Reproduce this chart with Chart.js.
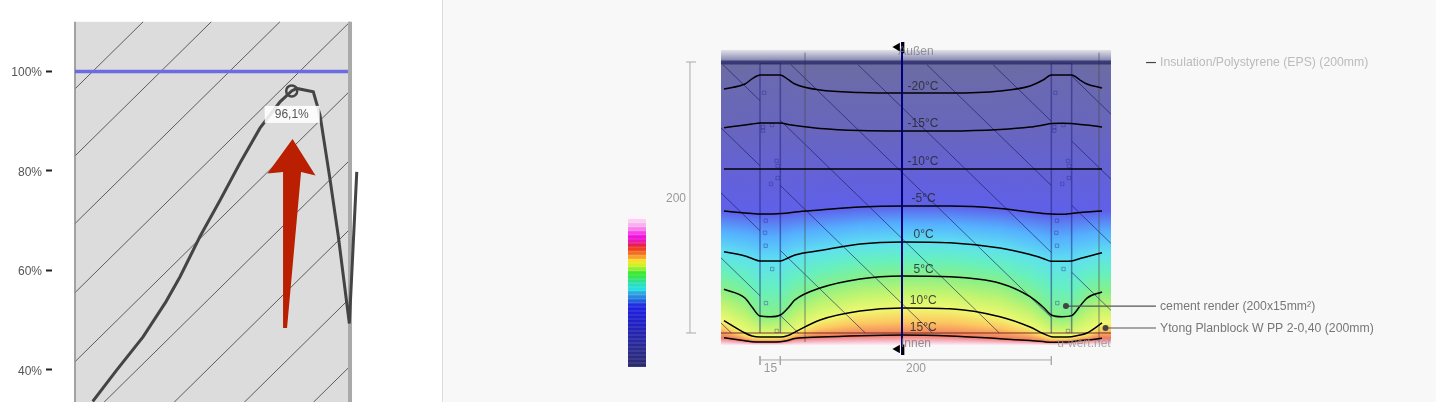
<!DOCTYPE html>
<html>
<head>
<meta charset="utf-8">
<script src="https://cdn.jsdelivr.net/npm/chart.js@4/dist/chart.umd.min.js"></script>
<style>
  html, body { margin: 0; padding: 0; width: 1436px; height: 402px; overflow: hidden; background: #fff; }
  canvas { position: absolute; display: block; }
  #right-bg { position: absolute; left: 442px; top: 0; width: 994px; height: 402px; background: #f8f8f8; border-left: 1px solid #dcdcdc; box-sizing: border-box; }
</style>
</head>
<body>
<div id="right-bg"></div>
<canvas id="humidity" width="443" height="402" style="left:0;top:0"></canvas>
<canvas id="section" width="993" height="402" style="left:443px;top:0"></canvas>
<canvas id="scale" width="18" height="152" style="left:628px;top:215px"></canvas>
<script>
// left panel: humidity across the wall (x in mm, y in %)
const humTicks = [40, 60, 80, 100];
const humX = [12.9, 30.3, 49.5, 66.2, 76.4, 90.9, 105.5, 120, 134.5, 149.1, 157.6, 161.2, 173.3, 178.2, 185.5, 191.5, 199.5, 204.9];
const humY = [33.6, 39.9, 46.6, 53.7, 58.7, 66.8, 74.1, 81.6, 88.6, 93.9, 96.1, 96.6, 95.9, 91.2, 78.2, 66.8, 49.3, 79.8];
const humPeakIndex = 10;
const humPeakLabel = '96,1%';
const humHatch = [151, 137.5, 123.9, 110, 96.1, 82.2, 68.3, 54.4, 40.7, 26.9];
const arrowX = [158.2, 174.9, 164.4, 154.2, 151.6, 151.3, 140];
const arrowY = [86.4, 79.1, 79.8, 48.4, 48.4, 79.8, 79.5];

// right panel: wall section (mm), one isotherm height per station
const wallX = [-26.6, -11.1, -5.9, 0, 7.5, 15, 20.7, 25.8, 44.3, 73.8, 104.8, 140.2, 177.1, 199.3, 208.9, 215, 222.9, 230, 236.2, 241.3, 252.4];
const isoM20 = [180.1, 183.8, 187.5, 190.4, 190.4, 190.4, 187.1, 183.8, 179.3, 177.5, 177.1, 177.1, 178.6, 182.3, 186.7, 190.4, 190.4, 190.4, 186.7, 183.8, 180.8];
const isoM15 = [151.5, 153.5, 154.2, 155, 155, 155, 153.9, 153.1, 150.9, 149.4, 149.1, 149.1, 150.2, 152, 153.5, 154.6, 154.8, 154.6, 153.9, 153.5, 152];
const isoM10 = [121, 121, 121, 121, 121, 121, 121, 121, 121, 121, 121, 121, 121, 121, 121, 121, 121, 121, 121, 121, 121];
const isoM5 = [90, 88.6, 88.2, 87.8, 87.8, 88.2, 88.6, 89.3, 90.8, 93, 93.7, 93.7, 91.9, 89.3, 88.2, 87.8, 87.6, 88.2, 88.9, 89.3, 90];
const iso0 = [60, 56.8, 55, 53.1, 53.1, 53.1, 55.4, 57.6, 60.9, 65.7, 67.2, 66.6, 62.7, 57.9, 55, 52.9, 52.9, 53.1, 55, 56.3, 59.3];
const iso5 = [32.3, 25.8, 19.2, 12.5, 12, 13.3, 18.5, 24.4, 33.2, 39.9, 42.1, 41.5, 36.7, 26.8, 19.2, 13.3, 12, 12.8, 19.9, 25.8, 30.3];
const iso10 = [9.1, 0, -2.2, -3, -3, -3, -1.8, 0.7, 9.6, 16.2, 18.5, 17.9, 12, 4.4, -0.4, -2.7, -3, -2.7, -1.5, 0, 7.4];
const iso15 = [-3.5, -5.7, -6.4, -6.6, -6.6, -6.4, -5.5, -4.1, -3, -2, -1.5, -2.2, -4.2, -5.5, -6.3, -6.9, -6.6, -6.4, -5.5, -5.2, -3.9];
const isoTemps = [-20, -15, -10, -5, 0, 5, 10, 15];
const isoLines = [isoM20, isoM15, isoM10, isoM5, iso0, iso5, iso10, iso15];
const isoLabels = ['-20°C', '-15°C', '-10°C', '-5°C', '0°C', '5°C', '10°C', '15°C'];
const isoLabelX = [120.3, 120.3, 120.3, 120.7, 120.8, 120.8, 120.5, 120.5];
const isoLabelY = [181.8, 154.2, 126.4, 99.4, 72.8, 47, 23.8, 4.2];

// colour of the wall at a given temperature
const fieldTemps = [-25, -20, -15, -10, -5, -2.5, 0, 2.5, 5, 7.5, 10, 12.5, 15, 17.5, 20];
const fieldColors = ['#6c6ca2', '#6a69b0', '#6866bc', '#6462d4', '#5f60ea', '#55b0ff', '#5fe0f0', '#66f0c0', '#88f088', '#c0f470', '#f0f870', '#fcc860', '#f07860', '#f4b0c0', '#fdeef6'];

const hatchStarts = [-225.1, -175.6, -126.2, -76.8, -27.3, 22.9, 72.3, 123.2, 172, 221.4];
const studDotX = [3, 2.2, 2.2, 8.9, 12.3, 13, 13, 8.1, 4.2, 3.7, 4.2, 9, 4.4, 12.3];
const studDotY = [177.3, 149.3, 152, 153.5, 127, 123.2, 114.4, 110, 82.9, 74, 64.4, 47.2, 22.1, 1.5];
const materialNames = ['Insulation/Polystyrene (EPS) (200mm)', 'cement render (200x15mm²)', 'Ytong Planblock W PP 2-0,40 (200mm)'];

// colour scale rows, top to bottom
const scaleRows = ['#fdf3fb', '#f9d0f0', '#f8b0f0', '#f880ec', '#f840e6', '#f010e0', '#e818b0', '#e82050', '#f04020', '#f07020', '#f8a030', '#f8e020', '#d0f028', '#90f030', '#40e830', '#30e850', '#30e090', '#28e0c0', '#20e0e0', '#30a8e0', '#2888e0', '#2060e0', '#2030e0', '#2020e0', '#2020d8', '#2020d0', '#2020c8', '#2020c0', '#2222b8', '#2424b0', '#2626a8', '#2828a0', '#282898', '#2a2a90', '#2a2a88', '#2a2a80', '#2a2a78', '#2a2a70'];

const FONT = '12px "Liberation Sans", Arial, sans-serif';
const MATERIAL_FONT = '12.25px "Liberation Sans", Arial, sans-serif';

function xy(xs, ys) { return xs.map((x, i) => ({ x, y: ys[i] })); }

// list of [x1,y1,x2,y2] -> points with gaps between the pieces
function pieces(list) {
  const out = [];
  list.forEach(s => { out.push({ x: s[0], y: s[1] }, { x: s[2], y: s[3] }, { x: s[2], y: null }); });
  return out;
}

function line(data, color, width, extra) {
  return Object.assign({ data, borderColor: color, borderWidth: width, showLine: true, pointRadius: 0, tension: 0, spanGaps: false }, extra || {});
}

function text(ctx, str, x, y, color, align) {
  ctx.fillStyle = color;
  ctx.textAlign = align || 'center';
  ctx.fillText(str, x, y);
}

// --- left panel ---
function humHatchPieces() {
  const fall = 54.5; // % lost over the 200mm wall
  return humHatch.map(h => {
    let x2 = 200, y2 = h;
    if (y2 > 110) { x2 = 200 - (y2 - 110) / fall * 200; y2 = 110; }
    return [0, h - fall, x2, y2];
  });
}

const humDatasets = [
  line(pieces(humHatchPieces()), 'rgba(50,50,50,.75)', 1),
  line(xy([0, 0], [33, 110]), '#8a8a8a', 1.5),
  line(xy([200, 200], [33, 110]), '#a9a9a9', 4),
  line(xy([0, 198.5], [100, 100]), '#6c6ce2', 3.5),
  line(xy(humX, humY), '#444', 3, {
    pointRadius: humX.map((x, i) => i === humPeakIndex ? 5.5 : 0),
    pointBackgroundColor: 'transparent', pointBorderColor: '#444', pointBorderWidth: 2.5
  }),
  line(xy(arrowX, arrowY), '#b91f00', 0, { fill: 'shape', backgroundColor: '#b91f00' })
].reverse();

new Chart(document.getElementById('humidity'), {
  type: 'scatter',
  data: { datasets: humDatasets },
  options: {
    responsive: false, animation: false, events: [],
    layout: { padding: 0, autoPadding: false },
    plugins: { legend: { display: false }, tooltip: { enabled: false } },
    scales: {
      x: { type: 'linear', display: false, min: -16.7, max: 267.6 },
      y: {
        type: 'linear', min: 33.5, max: 114.39,
        afterFit: s => { s.width = 52; s.paddingTop = 0; s.paddingBottom = 0; },
        afterBuildTicks: s => { s.ticks = humTicks.map(value => ({ value })); },
        border: { display: false },
        grid: { drawOnChartArea: false, tickLength: 6, tickColor: '#222', tickWidth: 2 },
        ticks: { color: '#555', padding: 4, labelOffset: 1.5, font: { family: '"Liberation Sans", Arial, sans-serif', size: 12 }, callback: v => v + '%' }
      }
    }
  },
  plugins: [{
    id: 'wallAndLabel',
    beforeDatasetsDraw(chart) {
      const { ctx, scales: { x, y } } = chart;
      ctx.fillStyle = '#dcdcdc';
      ctx.fillRect(x.getPixelForValue(0), y.getPixelForValue(110), x.getPixelForValue(200) - x.getPixelForValue(0), chart.height);
    },
    afterDatasetsDraw(chart) {
      const { ctx, scales: { x, y } } = chart;
      const cx = x.getPixelForValue(humX[humPeakIndex]);
      const cy = y.getPixelForValue(humY[humPeakIndex]) + 23.5;
      ctx.save();
      ctx.fillStyle = 'rgba(255,255,255,.88)';
      ctx.fillRect(cx - 27, cy - 8.5, 55, 17);
      ctx.font = FONT;
      ctx.textBaseline = 'middle';
      text(ctx, humPeakLabel, cx, cy, '#555');
      ctx.restore();
    }
  }]
});

// --- right panel ---
const WALL_L = -28.8, WALL_R = 259;

function sectionHatchPieces() {
  const regions = [[WALL_L, 0], [15, 215], [230, WALL_R]];
  const run = 1.03;
  const out = [];
  hatchStarts.forEach(x0 => {
    regions.forEach(r => {
      const yA = Math.min(198, 198 - (r[0] - x0) / run);
      const yB = Math.max(0, 198 - (r[1] - x0) / run);
      if (yA > yB) out.push([x0 + (198 - yA) * run, yA, x0 + (198 - yB) * run, yB]);
    });
  });
  return out;
}

const sectionDatasets = [
  line(pieces(sectionHatchPieces()), 'rgba(20,20,90,.6)', 1),
  line(pieces([[33.2, 207, 33.2, -6.6], [250.2, 207, 250.2, -6.6]]), 'rgba(70,70,70,.32)', 2),
  line(pieces([[0, 199, 0, 0], [15, 199, 15, 0], [215, 199, 215, 0], [230, 199, 230, 0]]), 'rgba(30,30,120,.5)', 1.5),
  line(pieces([[0, 199, 15, 199], [215, 199, 230, 199]]), 'rgba(30,30,120,.5)', 1),
  line(xy(studDotX.concat(studDotX.map(v => v + 215)), studDotY.concat(studDotY)), 'transparent', 0, {
    showLine: false, pointStyle: 'rect', pointRadius: 2.4, pointBackgroundColor: 'transparent',
    pointBorderColor: 'rgba(40,40,150,.4)', pointBorderWidth: 1
  }),
  line(xy([WALL_L, WALL_R], [199.6, 199.6]), 'rgba(35,35,100,.72)', 4),
  line(xy([WALL_L, WALL_R], [0, 0]), 'rgba(110,30,30,.45)', 2)
];
isoLines.forEach(iso => {
  sectionDatasets.push(line(xy(wallX, iso), '#000', 1.5, { cubicInterpolationMode: 'monotone' }));
});
sectionDatasets.push(
  line(xy([104.8, 104.8], [214.8, -16.2]), '#00007c', 2),
  line(pieces([[105.6, 214.8, 105.6, 206.5], [105.6, -8.5, 105.6, -16.2]]), '#000', 2.5),
  line(xy([101.4, 101.4], [211, -11.8]), 'transparent', 0, {
    showLine: false, pointStyle: 'triangle', pointRotation: -90, pointRadius: 5,
    pointBackgroundColor: '#000', pointBorderWidth: 0
  }),
  // dimension lines
  line(pieces([[-51.7, 0, -51.7, 200]]), '#c4c4c4', 1.5),
  line(pieces([[-54.6, 200, -47.2, 200], [-54.6, 0, -47.2, 0]]), '#aaa', 1),
  line(pieces([[0, -19.9, 215, -19.9], [0, -17, 0, -23.6], [15, -17, 15, -23.6], [215, -17, 215, -23.6]]), '#aaa', 1),
  // material leaders
  line(pieces([[284.9, 199.6, 292.2, 199.6]]), '#444', 1.2),
  line(xy([225.8, 292.2], [19.9, 19.9]), '#555', 1.2, {
    pointRadius: [3, 0], pointBackgroundColor: '#444', pointBorderWidth: 0
  }),
  line(xy([255, 292.2], [3.7, 3.7]), '#555', 1.2, {
    pointRadius: [3, 0], pointBackgroundColor: '#444', pointBorderWidth: 0
  })
);

function lerp(a, b, t) { return a + (b - a) * t; }

// height of temperature t at wall position xv, read from the isotherm arrays
function heightAt(iso, xv) {
  if (xv <= wallX[0]) return iso[0];
  for (let i = 1; i < wallX.length; i++) {
    if (xv <= wallX[i]) return lerp(iso[i - 1], iso[i], (xv - wallX[i - 1]) / (wallX[i] - wallX[i - 1]));
  }
  return iso[iso.length - 1];
}

function tempHeight(t, heights) {
  if (t <= isoTemps[0]) return lerp(199, heights[0], (t + 25) / 5);
  const last = isoTemps.length - 1;
  if (t >= isoTemps[last]) return lerp(heights[last], -8.9, (t - 15) / 5);
  const i = Math.floor((t + 20) / 5);
  return lerp(heights[i], heights[i + 1], (t - isoTemps[i]) / 5);
}

new Chart(document.getElementById('section'), {
  type: 'scatter',
  data: { datasets: sectionDatasets.reverse() },
  options: {
    responsive: false, animation: false, events: [],
    layout: { padding: 0, autoPadding: false },
    plugins: { legend: { display: false }, tooltip: { enabled: false } },
    scales: {
      x: { type: 'linear', display: false, min: -233.95, max: 498.89 },
      y: { type: 'linear', display: false, min: -50.92, max: 245.76 }
    }
  },
  plugins: [{
    id: 'field',
    beforeDatasetsDraw(chart) {
      const { ctx, scales: { x, y } } = chart;
      const top = y.getPixelForValue(208.9), bottom = y.getPixelForValue(-8.9);
      const left = Math.round(x.getPixelForValue(WALL_L)), right = Math.round(x.getPixelForValue(WALL_R));
      const h = bottom - top;
      for (let px = left; px < right; px++) {
        const xv = x.getValueForPixel(px + 0.5);
        const heights = isoLines.map(iso => heightAt(iso, xv));
        const g = ctx.createLinearGradient(0, top, 0, bottom);
        g.addColorStop(0, '#e2e2ea');
        g.addColorStop((y.getPixelForValue(200.5) - top) / h, '#8080ac');
        fieldTemps.forEach((t, i) => {
          const stop = (y.getPixelForValue(tempHeight(t, heights)) - top) / h;
          g.addColorStop(Math.min(1, Math.max(0, stop)), fieldColors[i]);
        });
        ctx.fillStyle = g;
        ctx.fillRect(px, top, 1, h);
      }
    },
    afterDatasetsDraw(chart) {
      const { ctx, scales: { x, y } } = chart;
      const put = (str, xv, yv, color, align) => text(ctx, str, x.getPixelForValue(xv), y.getPixelForValue(yv), color, align);
      ctx.save();
      ctx.font = FONT;
      ctx.textBaseline = 'middle';
      isoLabels.forEach((s, i) => put(s, isoLabelX[i], isoLabelY[i], 'rgba(40,40,40,.85)'));
      put('Außen', 115.1, 207.4, 'rgba(120,120,130,.75)');
      put('Innen', 115.1, -8.1, 'rgba(120,120,120,.8)');
      put('u-wert.net', 239.1, -8.1, 'rgba(150,150,150,.8)');
      put('200', -62, 98.9, '#999');
      put('15', 7.7, -26.6, '#999');
      put('200', 115.1, -26.6, '#999');
      ctx.font = MATERIAL_FONT;
      put(materialNames[0], 295.2, 199.3, '#bbb', 'left');
      put(materialNames[1], 295.2, 19.2, '#777', 'left');
      put(materialNames[2], 295.2, 3, '#777', 'left');
      ctx.restore();
    }
  }]
});

// --- colour scale ---
new Chart(document.getElementById('scale'), {
  type: 'bar',
  data: {
    labels: scaleRows.map((c, i) => i),
    datasets: [{ data: scaleRows.map(() => 1), backgroundColor: scaleRows, barPercentage: 1, categoryPercentage: 0.96, borderWidth: 0 }]
  },
  options: {
    indexAxis: 'y', responsive: false, animation: false, events: [],
    layout: { padding: 0, autoPadding: false },
    plugins: { legend: { display: false }, tooltip: { enabled: false } },
    scales: {
      x: { display: false, min: 0, max: 1 },
      y: { display: false }
    }
  }
});
</script>
</body>
</html>
